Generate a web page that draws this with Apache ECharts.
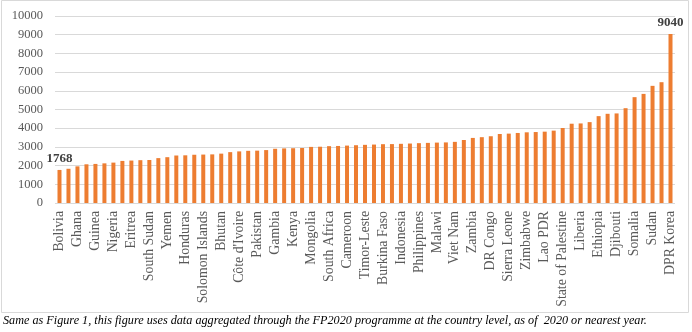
<!DOCTYPE html>
<html>
<head>
<meta charset="utf-8">
<script src="https://cdn.jsdelivr.net/npm/echarts@6/dist/echarts.min.js"></script>
<style>
  html, body { margin: 0; padding: 0; background: #fff; }
  #chart { width: 692px; height: 332px; }
</style>
</head>
<body>
<div id="chart"></div>
<script>
// countries, sorted by value (only every other name is printed on the axis)
const countries = [
  'Bolivia', 'Afghanistan', 'Ghana', 'Bangladesh', 'Guinea', 'Benin', 'Nigeria', 'Burundi',
  'Eritrea', 'Cambodia', 'South Sudan', 'CAR', 'Yemen', 'Chad', 'Honduras', 'Comoros',
  'Solomon Islands', 'Congo', 'Bhutan', 'Egypt', "Côte d'Ivoire", 'Guinea-Bissau', 'Pakistan', 'Haiti',
  'Gambia', 'India', 'Kenya', 'Iraq', 'Mongolia', 'Kyrgyzstan', 'South Africa', 'Lesotho',
  'Cameroon', 'Madagascar', 'Timor-Leste', 'Mali', 'Burkina Faso', 'Mauritania', 'Indonesia', 'Mozambique',
  'Philippines', 'Myanmar', 'Malawi', 'Nepal', 'Viet Nam', 'Nicaragua', 'Zambia', 'Niger',
  'DR Congo', 'Papua New Guinea', 'Sierra Leone', 'Rwanda', 'Zimbabwe', 'São Tomé and Príncipe', 'Lao PDR', 'Senegal',
  'State of Palestine', 'Sri Lanka', 'Liberia', 'Tajikistan', 'Ethiopia', 'Tanzania', 'Djibouti', 'Togo',
  'Somalia', 'Uganda', 'Sudan', 'Uzbekistan', 'DPR Korea'
];

const values = [
  1768, 1830, 1960, 2070, 2090, 2120, 2160, 2250,
  2270, 2290, 2300, 2400, 2450, 2540, 2550, 2580,
  2590, 2600, 2640, 2720, 2760, 2790, 2800, 2830,
  2900, 2920, 2930, 2940, 3000, 3010, 3040, 3050,
  3070, 3090, 3110, 3125, 3145, 3150, 3165, 3180,
  3200, 3215, 3230, 3240, 3270, 3370, 3480, 3520,
  3570, 3690, 3710, 3745, 3780, 3795, 3815, 3870,
  4010, 4240, 4255, 4325, 4645, 4770, 4790, 5070,
  5660, 5835, 6265, 6460, 9040
];

const yTicks = { min: 0, max: 10000, step: 1000 };

const caption = 'Same as Figure 1, this figure uses data aggregated through the FP2020 programme at the country level, as of  2020 or nearest year.';

const SERIF = '"Liberation Serif", "Times New Roman", serif';
const GREY = '#595959';

const chart = echarts.init(document.getElementById('chart'));

// only the lowest and highest bars carry a value label
const barData = values.map((v, i) => ({
  value: v,
  label: { show: i === 0 || i === values.length - 1 }
}));

chart.setOption({
  animation: false,
  grid: { left: 55, right: 17, top: 16, bottom: 129, containLabel: false },
  xAxis: {
    type: 'category',
    data: countries,
    axisLine: { show: false },
    axisTick: { show: false },
    axisLabel: {
      interval: 1,
      rotate: 90,
      margin: 8,
      color: GREY,
      fontFamily: SERIF,
      fontSize: 13.8
    }
  },
  yAxis: {
    type: 'value',
    min: yTicks.min,
    max: yTicks.max,
    interval: yTicks.step,
    axisLine: { show: false },
    axisTick: { show: false },
    axisLabel: {
      margin: 12,
      color: GREY,
      fontFamily: SERIF,
      fontSize: 12.5,
      formatter: v => String(v)
    },
    splitLine: { lineStyle: { color: '#d9d9d9', width: 1 } }
  },
  series: [{
    type: 'bar',
    data: barData,
    barWidth: 4,
    itemStyle: { color: '#ED7D31' },
    label: {
      position: 'top',
      distance: 5,
      color: '#404040',
      fontFamily: SERIF,
      fontWeight: 'bold',
      fontSize: 13
    }
  }],
  graphic: [
    {
      type: 'rect',
      shape: { x: 1.5, y: 0.5, width: 687, height: 312 },
      style: { fill: null, stroke: '#d9d9d9', lineWidth: 1 },
      silent: true
    },
    {
      type: 'text',
      left: 3,
      top: 315,
      style: {
        text: caption,
        font: 'italic 12.2px ' + SERIF,
        fill: '#000'
      }
    }
  ]
});
</script>
</body>
</html>
